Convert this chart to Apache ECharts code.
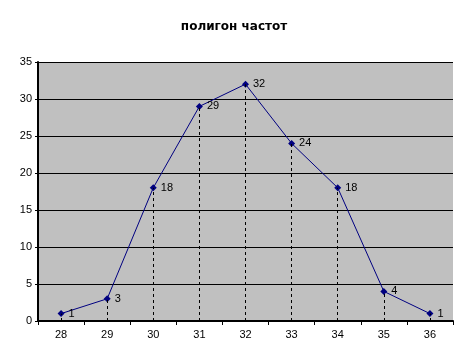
<!DOCTYPE html>
<html><head><meta charset="utf-8">
<script src="https://cdn.jsdelivr.net/npm/echarts@6/dist/echarts.min.js"></script>
<style>html,body{margin:0;padding:0;background:#fff}#c{width:468px;height:362px}</style>
</head><body><div id="c"></div>
<script>
var categories = ['28','29','30','31','32','33','34','35','36'];
var frequencies = [1, 3, 18, 29, 32, 24, 18, 4, 1];
var yTicks = [0, 5, 10, 15, 20, 25, 30, 35];

var dropLines = frequencies.map(function (v, i) {
  return [{ coord: [i, 0] }, { coord: [i, v] }];
});

var chart = echarts.init(document.getElementById('c'));
chart.setOption({
  animation: false,
  backgroundColor: '#ffffff',
  title: {
    text: 'полигон частот', left: 'center', top: 16,
    textStyle: { fontFamily: 'DejaVu Sans', fontSize: 12, fontWeight: 'bold', color: '#000' }
  },
  grid: { left: 38, right: 15, top: 62, bottom: 41, show: true, backgroundColor: '#c0c0c0', borderWidth: 0 },
  xAxis: {
    type: 'category', data: categories, boundaryGap: true,
    axisLine: { lineStyle: { color: '#000', width: 2 } },
    axisTick: { show: true, length: 4, lineStyle: { color: '#000', width: 1 } },
    axisLabel: { color: '#000', fontFamily: 'Liberation Sans, Arial', fontSize: 11, margin: 8 },
    splitLine: { show: false }
  },
  yAxis: {
    type: 'value', min: yTicks[0], max: yTicks[yTicks.length - 1], interval: 5,
    axisLine: { show: true, lineStyle: { color: '#000', width: 2 } },
    axisTick: { show: true, length: 3, lineStyle: { color: '#000', width: 1 } },
    axisLabel: { color: '#000', fontFamily: 'Liberation Sans, Arial', fontSize: 11, margin: 6 },
    splitLine: { show: true, lineStyle: { color: '#000', width: 1 } }
  },
  series: [{
    type: 'line', data: frequencies,
    symbol: 'diamond', symbolSize: 7,
    lineStyle: { color: '#000080', width: 1 },
    itemStyle: { color: '#000080' },
    label: { show: true, position: 'right', distance: 4, color: '#000', fontFamily: 'Liberation Sans, Arial', fontSize: 11 },
    markLine: {
      silent: true, symbol: ['none', 'none'], label: { show: false },
      lineStyle: { color: '#000', type: [3, 3], width: 1 },
      data: dropLines
    },
    z: 3
  }]
});
</script></body></html>
